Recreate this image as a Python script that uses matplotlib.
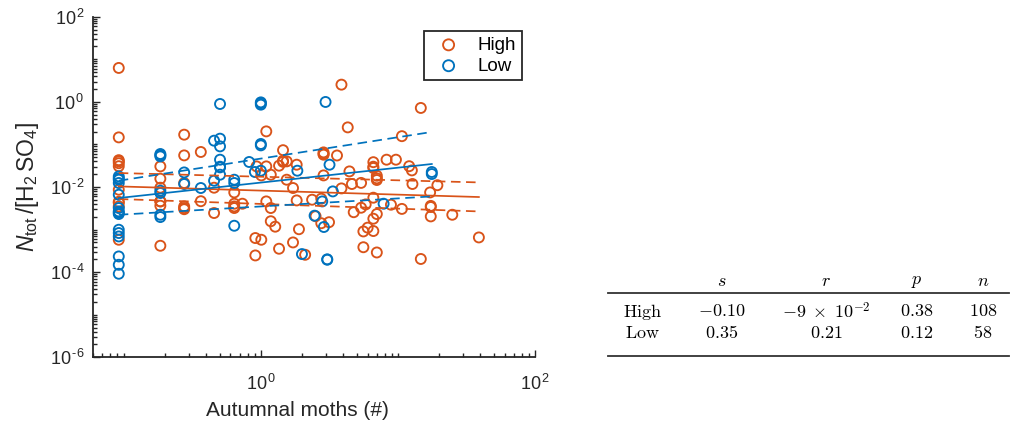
import matplotlib
matplotlib.use("Agg")
import matplotlib.pyplot as plt
import numpy as np
from matplotlib.ticker import FixedLocator, FixedFormatter, LogLocator, NullFormatter
from matplotlib.lines import Line2D

plt.rcParams.update({
    "font.family": ["Liberation Sans", "DejaVu Sans"],
    "mathtext.fontset": "custom",
    "mathtext.rm": "Liberation Sans",
    "mathtext.it": "Liberation Sans:italic",
    "mathtext.bf": "Liberation Sans:bold",
})

# ---- data -------------------------------------------------------------
high_x = [
    0.092, 0.092, 0.092, 0.092, 0.092, 0.092, 0.092, 0.092, 0.092, 0.092, 0.092,
    0.185, 0.185, 0.185, 0.185, 0.185, 0.185, 0.185,
    0.276, 0.276, 0.276, 0.276, 0.276, 0.276,
    0.365, 0.365,
    0.456, 0.456,
    0.640, 0.640, 0.640, 0.640,
    0.734, 0.912, 0.912, 0.931,
    1.008, 1.008, 1.096, 1.096, 1.096,
    1.182, 1.182, 1.182, 1.274, 1.358, 1.358,
    1.452, 1.452, 1.452, 1.544, 1.544,
    1.717, 1.717, 1.826, 1.826, 1.897, 2.105, 2.366, 2.508,
    2.760, 2.760, 2.868, 2.868, 2.868, 2.868,
    3.144, 3.594, 3.874, 3.874, 4.305, 4.430, 4.618, 4.759,
    5.386, 5.386, 5.598, 5.598, 5.818, 6.015,
    6.618, 6.618, 6.618, 6.618, 6.618, 6.618,
    7.016, 7.016, 7.016, 7.016, 7.016,
    8.264, 8.896, 9.672, 10.69, 10.69,
    12.08, 12.64, 12.76, 14.69, 14.69,
    17.17, 17.36, 17.36, 17.36, 19.40, 24.92, 38.95,
]
high_y = [
    6.26, 0.1465, 0.0427, 0.040, 0.0362, 0.0308, 0.00864, 0.0045, 0.00428, 0.00350, 0.000577,
    0.0305, 0.01567, 0.00963, 0.0046, 0.00459, 0.00364, 0.000417,
    0.1695, 0.0553, 0.0124, 0.00350, 0.0032, 0.00301,
    0.0665, 0.00464,
    0.00963, 0.00245,
    0.00746, 0.00405, 0.0035, 0.00321,
    0.00405, 0.000633, 0.000247, 0.0305,
    0.01874, 0.000577, 0.2026, 0.0305, 0.00459,
    0.01946, 0.00321, 0.00157, 0.00117, 0.000355, 0.0317,
    0.0733, 0.0415, 0.039, 0.0400, 0.01484,
    0.00947, 0.000499, 0.0334, 0.00484, 0.00102, 0.000256, 0.00503, 0.00206,
    0.00531, 0.00141, 0.0650, 0.060, 0.0574, 0.01874,
    0.00149, 0.0550, 2.536, 0.00927, 0.2516, 0.02326, 0.01177, 0.00256,
    0.01249, 0.00326, 0.000385, 0.000905, 0.00390, 0.00111,
    0.0383, 0.0300, 0.0280, 0.00561, 0.00180, 0.000925,
    0.01843, 0.0160, 0.01461, 0.00232, 0.000290,
    0.0438, 0.00384, 0.0438, 0.1563, 0.00306,
    0.0308, 0.02455, 0.01177, 0.719, 0.000204,
    0.00746, 0.0036, 0.00339, 0.00204, 0.01102, 0.00223, 0.000654,
]

low_x = [
    0.092, 0.092, 0.092, 0.092, 0.092, 0.092, 0.092, 0.092, 0.092, 0.092,
    0.092, 0.092, 0.092, 0.092, 0.092,
    0.185, 0.185, 0.185, 0.185, 0.185, 0.185, 0.185,
    0.276, 0.276, 0.365,
    0.456, 0.456,
    0.504, 0.504, 0.504, 0.504, 0.504, 0.504, 0.504,
    0.640, 0.640, 0.640, 0.822, 0.905,
    1.0, 1.0, 1.0, 1.0, 1.0, 1.0,
    1.847, 1.995, 2.467, 2.806, 2.883, 2.965, 3.051, 3.051, 3.170, 3.350,
    7.861, 17.66, 17.66,
]
low_y = [
    0.01775, 0.0160, 0.01484, 0.01242, 0.00659, 0.00321, 0.00267, 0.0025, 0.00232, 0.000992,
    0.000830, 0.000690, 0.000234, 0.000149, 0.0000917,
    0.0596, 0.0560, 0.0524, 0.00818, 0.00723, 0.00223, 0.00197,
    0.0220, 0.01177, 0.00947,
    0.1225, 0.01406,
    0.892, 0.1365, 0.0900, 0.0438, 0.0300, 0.0289, 0.01946,
    0.01484, 0.01242, 0.00123, 0.0387, 0.02251,
    0.973, 0.93, 0.859, 0.1025, 0.0950, 0.02415,
    0.02415, 0.000266, 0.00212, 0.00459, 0.00115, 0.994, 0.000196, 0.000200, 0.0334, 0.00788,
    0.00405, 0.02251, 0.0202,
]

# power-law fits (value at first and last x) with their bounds
high_fit_x = [0.092, 38.95]
high_fit = [0.01033, 0.00582]
high_upper = [0.0213, 0.01282]
high_lower = [0.00522, 0.00267]

low_fit_x = [0.092, 17.66]
low_fit = [0.00551, 0.0347]
low_upper = [0.01406, 0.1962]
low_lower = [0.00223, 0.00601]

series_names = ["High", "Low"]

x_ticks = [1e0, 1e2]
x_tick_labels = [r"$10^{\,0}$", r"$10^{\,2}$"]
y_ticks = [1e-6, 1e-4, 1e-2, 1e0, 1e2]
y_tick_labels = [r"$10^{\,\text{-}6}$", r"$10^{\,\text{-}4}$", r"$10^{\,\text{-}2}$",
                 r"$10^{\,0}$", r"$10^{\,2}$"]

table_cols = ["$s$", "$r$", "$p$", "$n$"]
table_rows = [
    [r"$\mathrm{High}$", r"$-0.10$", r"$-9\;\times\;10^{-2}$", r"$0.38$", r"$108$"],
    [r"$\mathrm{Low}$", r"$0.35$", r"$0.21$", r"$0.12$", r"$58$"],
]

# ---- style ------------------------------------------------------------
c_high = "#D95319"
c_low = "#0072BD"
axis_col = "#262626"

fig = plt.figure(figsize=(10.11, 4.23), dpi=100)
ax = fig.add_axes([0.0923, 0.1553, 0.4369, 0.8052])

ax.scatter(high_x, high_y, s=52, facecolors="none", edgecolors=c_high,
           linewidths=1.35, label=series_names[0], zorder=3)
ax.scatter(low_x, low_y, s=52, facecolors="none", edgecolors=c_low,
           linewidths=1.35, label=series_names[1], zorder=3)

dash = (0, (5.5, 3.2))
lw = 1.25
ax.plot(high_fit_x, high_fit, color=c_high, lw=lw, zorder=4)
ax.plot(high_fit_x, high_upper, color=c_high, lw=lw, ls=dash, zorder=4)
ax.plot(high_fit_x, high_lower, color=c_high, lw=lw, ls=dash, zorder=4)
ax.plot(low_fit_x, low_fit, color=c_low, lw=lw, zorder=4)
ax.plot(low_fit_x, low_upper, color=c_low, lw=lw, ls=dash, zorder=4)
ax.plot(low_fit_x, low_lower, color=c_low, lw=lw, ls=dash, zorder=4)

ax.set_xscale("log")
ax.set_yscale("log")
ax.set_xlim(0.06, 100)
ax.set_ylim(1e-6, 1e2)

ax.xaxis.set_major_locator(FixedLocator(x_ticks))
ax.xaxis.set_major_formatter(FixedFormatter(x_tick_labels))
ax.yaxis.set_major_locator(FixedLocator(y_ticks))
ax.yaxis.set_major_formatter(FixedFormatter(y_tick_labels))
ax.xaxis.set_minor_locator(LogLocator(base=10, subs=np.arange(1, 10), numticks=100))
ax.yaxis.set_minor_locator(LogLocator(base=10, subs=np.arange(1, 10), numticks=100))
ax.xaxis.set_minor_formatter(NullFormatter())
ax.yaxis.set_minor_formatter(NullFormatter())

for side in ("top", "right"):
    ax.spines[side].set_visible(False)
for side in ("left", "bottom"):
    ax.spines[side].set_color(axis_col)
    ax.spines[side].set_linewidth(1.3)

ax.tick_params(which="both", direction="in", colors=axis_col, width=1.0,
               top=False, right=False)
ax.tick_params(which="major", length=5, labelsize=13)
ax.tick_params(which="minor", length=3)
ax.tick_params(axis="x", which="major", pad=12)
ax.tick_params(axis="y", which="major", pad=6)

ax.set_xlabel("Autumnal moths (#)", fontsize=15, color=axis_col)
ax.xaxis.set_label_coords(0.463, -0.128)
ax.set_ylabel(r"$N_{\mathrm{tot}}\,$/[H$_2\,$SO$_4$]", fontsize=16.5, color=axis_col)
ax.yaxis.set_label_coords(-0.118, 0.5)

leg = ax.legend(loc="upper right", bbox_to_anchor=(0.97, 0.958), fontsize=13.5,
                frameon=True, fancybox=False, framealpha=1, edgecolor=axis_col,
                borderaxespad=0, borderpad=0.3, handletextpad=0.55,
                handlelength=2.0, labelspacing=0.2, markerscale=1.1)
leg.get_frame().set_linewidth(1.3)

# ---- summary table ----------------------------------------------------
W, H = 1011.0, 423.0
col_px = [643, 722, 826, 917, 983]
head_y, row_y = 281.7, [311.7, 333.3]
tfs = 13
for cx, label in zip(col_px[1:], table_cols):
    fig.text(cx / W, 1 - head_y / H, label, ha="center", va="center",
             fontsize=tfs, math_fontfamily="cm")
for ry, row in zip(row_y, table_rows):
    for cx, cell in zip(col_px, row):
        fig.text(cx / W, 1 - ry / H, cell, ha="center", va="center",
                 fontsize=tfs, math_fontfamily="cm")
for ly in (292.7, 355.5):
    fig.add_artist(Line2D([608 / W, 1009 / W], [1 - ly / H, 1 - ly / H],
                          color="#333333", lw=1.3, transform=fig.transFigure))

fig.savefig("out.png", dpi=100)
